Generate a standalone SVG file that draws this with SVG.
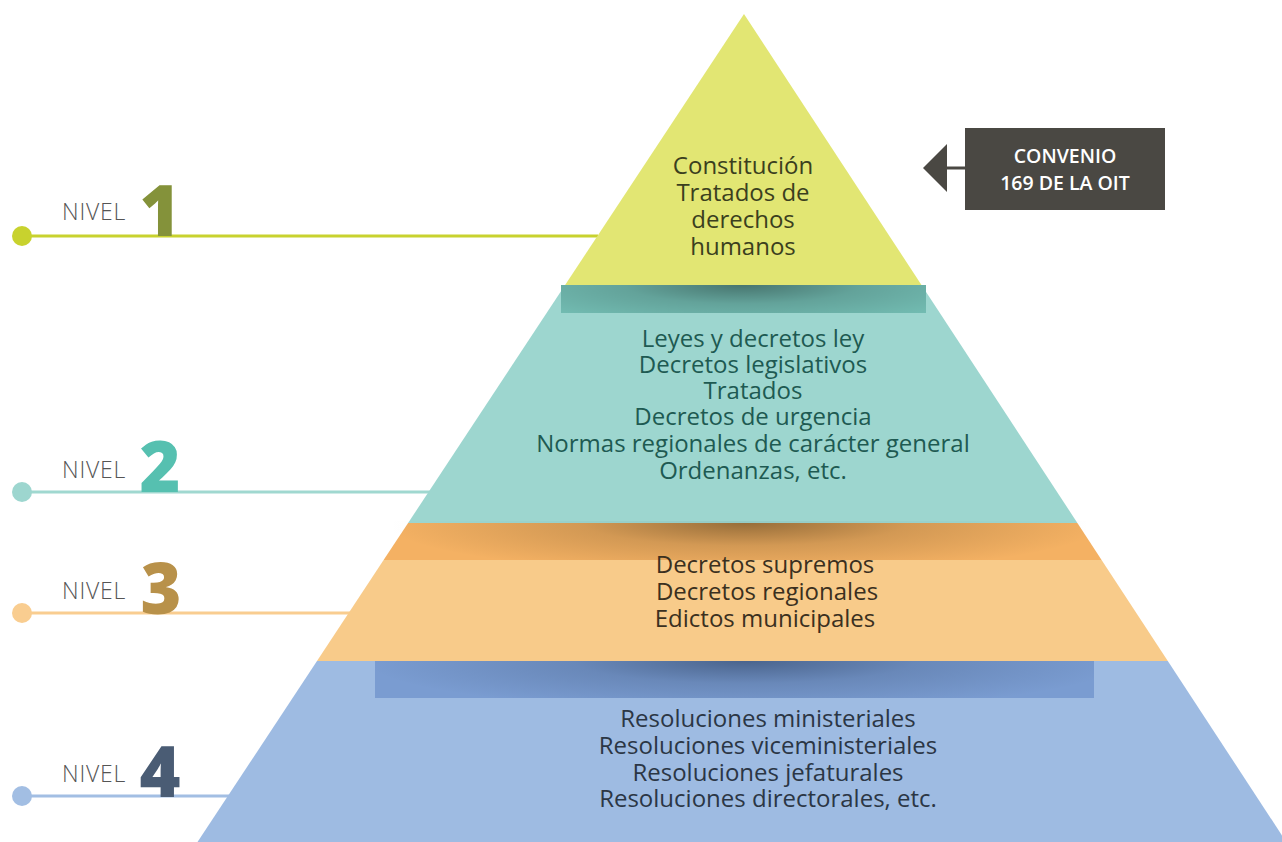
<svg xmlns="http://www.w3.org/2000/svg" width="1282" height="842" viewBox="0 0 1282 842">
<defs>
<style>
.t{font-family:"Open Sans","Noto Sans","Liberation Sans",sans-serif;font-size:24px;font-weight:400;text-anchor:middle}
.t1{fill:#3B3F1E}
.t2{fill:#1E5A52}
.t3{fill:#3B3020}
.t4{fill:#2B3645}
.nv{font-family:"Open Sans","Liberation Sans",sans-serif;font-size:23px;font-weight:300;fill:#555555;letter-spacing:0.8px}
.num{font-family:"Open Sans","Liberation Sans",sans-serif;font-size:70px;font-weight:800;text-anchor:middle}
.cv{font-family:"Open Sans","Liberation Sans",sans-serif;font-size:19.5px;font-weight:600;fill:#ffffff;text-anchor:middle}
</style>
<radialGradient id="shT" gradientUnits="userSpaceOnUse" cx="742" cy="285" r="260" gradientTransform="translate(742 285) scale(1 0.16) translate(-742 -285)">
<stop offset="0" stop-color="#000" stop-opacity="0.38"/>
<stop offset="0.45" stop-color="#000" stop-opacity="0.14"/>
<stop offset="1" stop-color="#000" stop-opacity="0"/>
</radialGradient>
<radialGradient id="shO" gradientUnits="userSpaceOnUse" cx="745" cy="523" r="360" gradientTransform="translate(745 523) scale(1 0.14) translate(-745 -523)">
<stop offset="0" stop-color="#3a2a10" stop-opacity="0.5"/>
<stop offset="0.45" stop-color="#3a2a10" stop-opacity="0.18"/>
<stop offset="1" stop-color="#3a2a10" stop-opacity="0"/>
</radialGradient>
<radialGradient id="shB" gradientUnits="userSpaceOnUse" cx="745" cy="661" r="380" gradientTransform="translate(745 661) scale(1 0.13) translate(-745 -661)">
<stop offset="0" stop-color="#10203a" stop-opacity="0.45"/>
<stop offset="0.45" stop-color="#10203a" stop-opacity="0.16"/>
<stop offset="1" stop-color="#10203a" stop-opacity="0"/>
</radialGradient>
<linearGradient id="faint" x1="0" y1="0" x2="1" y2="0">
<stop offset="0" stop-color="#000" stop-opacity="0"/>
<stop offset="0.5" stop-color="#000" stop-opacity="0.05"/>
<stop offset="1" stop-color="#000" stop-opacity="0"/>
</linearGradient>
</defs>
<rect width="1282" height="842" fill="#ffffff"/>
<g id="connectors">
<line x1="22" y1="236" x2="598" y2="236" stroke="#C8D22E" stroke-width="3"/>
<line x1="22" y1="492" x2="430" y2="492" stroke="#A0D8D0" stroke-width="3"/>
<line x1="22" y1="613" x2="352" y2="613" stroke="#F9CD90" stroke-width="3"/>
<line x1="22" y1="796" x2="232" y2="796" stroke="#A2BEE3" stroke-width="3"/>
<line x1="945" y1="168" x2="966" y2="168" stroke="#4A4843" stroke-width="3"/>
<polygon points="923,168 947,144 947,192" fill="#4A4843"/>
</g>
<g id="tier1">
<polygon points="744,14 921.5,285 565.1,285" fill="#E2E673"/>
<text class="t t1" x="743" y="174">Constitución</text>
<text class="t t1" x="743" y="201">Tratados de</text>
<text class="t t1" x="743" y="228">derechos</text>
<text class="t t1" x="743" y="255">humanos</text>
</g>
<g id="tier2">
<polygon points="565.1,285 921.5,285 1077.4,523 408.1,523" fill="#9DD6CF"/>
<rect x="561" y="285" width="365" height="28" fill="#73BDB3"/>
<rect x="561" y="285" width="365" height="28" fill="url(#shT)"/>
<text class="t t2" x="753" y="347">Leyes y decretos ley</text>
<text class="t t2" x="753" y="373">Decretos legislativos</text>
<text class="t t2" x="753" y="399">Tratados</text>
<text class="t t2" x="753" y="425">Decretos de urgencia</text>
<text class="t t2" x="753" y="452">Normas regionales de carácter general</text>
<text class="t t2" x="753" y="479">Ordenanzas, etc.</text>
</g>
<rect x="380" y="521" width="720" height="12" fill="url(#faint)"/>
<g id="tier3">
<polygon points="408.1,523 1077.4,523 1101.6,560 383.6,560" fill="#F4B163"/>
<polygon points="408.1,523 1077.4,523 1101.6,560 383.6,560" fill="url(#shO)"/>
<polygon points="383.6,560 1101.6,560 1167.8,661 317,661" fill="#F8CB8A"/>
<text class="t t3" x="765" y="573">Decretos supremos</text>
<text class="t t3" x="767" y="600">Decretos regionales</text>
<text class="t t3" x="765" y="627">Edictos municipales</text>
</g>
<g id="tier4">
<polygon points="317,661 1167.8,661 1286.3,842 197.5,842" fill="#9EBBE2"/>
<rect x="375" y="661" width="719" height="37" fill="#7A9CD1"/>
<rect x="375" y="661" width="719" height="37" fill="url(#shB)"/>
<text class="t t4" x="768" y="727">Resoluciones ministeriales</text>
<text class="t t4" x="768" y="754">Resoluciones viceministeriales</text>
<text class="t t4" x="768" y="781">Resoluciones jefaturales</text>
<text class="t t4" x="768" y="807">Resoluciones directorales, etc.</text>
</g>
<g id="nivel1">
<circle cx="22" cy="236" r="10" fill="#C8D22E"/>
<text class="nv" x="62" y="220">NIVEL</text>
<text class="num" x="160" y="236" fill="#84923A">1</text>
</g>
<g id="nivel2">
<circle cx="22" cy="492" r="10" fill="#9DD6CF"/>
<text class="nv" x="62" y="478">NIVEL</text>
<text class="num" x="160" y="492" fill="#56C0B0">2</text>
</g>
<g id="nivel3">
<circle cx="22" cy="613" r="10" fill="#F9CD90"/>
<text class="nv" x="62" y="599">NIVEL</text>
<text class="num" x="161" y="614" fill="#B8914A">3</text>
</g>
<g id="nivel4">
<circle cx="22" cy="796" r="10" fill="#A2BEE3"/>
<text class="nv" x="62" y="782">NIVEL</text>
<text class="num" x="160" y="797" fill="#4A5C74">4</text>
</g>
<g id="convenio">
<rect x="965" y="128" width="200" height="82" fill="#4A4843"/>
<text class="cv" x="1065" y="163">CONVENIO</text>
<text class="cv" x="1065" y="190">169 DE LA OIT</text>
</g>
</svg>
